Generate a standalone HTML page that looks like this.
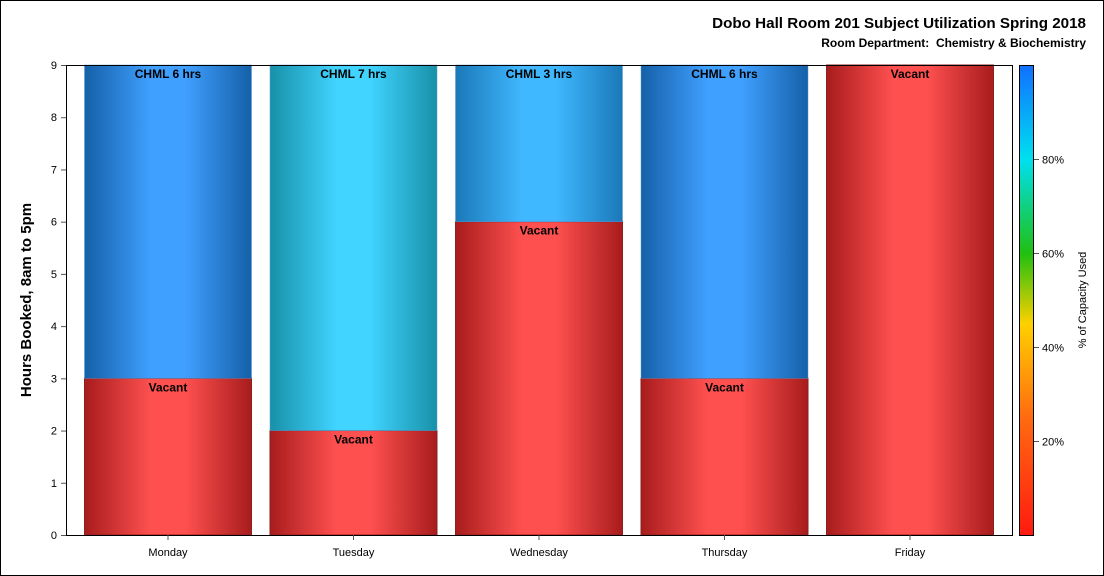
<!DOCTYPE html>
<html><head><meta charset="utf-8"><style>
body{margin:0;background:#fff}
svg{display:block;font-family:"Liberation Sans",Arial,sans-serif}
</style></head><body>
<svg id="c" width="1104" height="576">
<defs>
<linearGradient id="cb" x1="0" y1="1" x2="0" y2="0">
<stop offset="0" stop-color="#ff1a10"/><stop offset="0.25" stop-color="#ff6a10"/>
<stop offset="0.45" stop-color="#ffd000"/><stop offset="0.6" stop-color="#20c010"/>
<stop offset="0.8" stop-color="#00e0f0"/><stop offset="1" stop-color="#1070ff"/>
</linearGradient>
</defs>
<rect x="0.5" y="0.5" width="1103" height="575" fill="#fff" stroke="#000"/>
<text x="1086" y="28" text-anchor="end" font-size="15.2" font-weight="bold">Dobo Hall Room 201 Subject Utilization Spring 2018</text>
<text x="1086" y="47" text-anchor="end" font-size="12" font-weight="bold" xml:space="preserve">Room Department:  Chemistry &amp; Biochemistry</text>
<text transform="translate(31,300) rotate(-90)" text-anchor="middle" font-size="15" font-weight="bold">Hours Booked, 8am to 5pm</text>
<rect x="1019.5" y="65.5" width="14" height="470" fill="url(#cb)" stroke="#000"/>
<text transform="translate(1086,300) rotate(-90)" text-anchor="middle" font-size="11">% of Capacity Used</text>
<g id="bars"></g>
<g id="axes"></g>
</svg>
<script>
const days=["Monday","Tuesday","Wednesday","Thursday","Friday"];
const vacant=[3,2,6,3,9];
const booked=[6,7,3,6,0];
const bookedLabels=["CHML 6 hrs","CHML 7 hrs","CHML 3 hrs","CHML 6 hrs",""];
const yTicks=[0,1,2,3,4,5,6,7,8,9];
const legendTicks=[20,40,60,80];
const bookedColors=[["#1560a8","#40a0ff"],["#1890a8","#40d4ff"],["#1a78b8","#40b8ff"],["#1560a8","#40a0ff"],["#1560a8","#40a0ff"]];
const NS="http://www.w3.org/2000/svg";
const L=66,R=1012,T=65,B=535,yMax=9;
const y=v=>B-(v/yMax)*(B-T);
const pad=102;
const step=(R-L-2*pad)/(days.length-1);
const cxOf=i=>L+pad+step*i;
const barW=167;
const x=i=>cxOf(i)-barW/2;
const svg=document.getElementById('c');
const defs=svg.querySelector('defs');
function grad(id,edge,mid){
  const g=document.createElementNS(NS,'linearGradient');g.id=id;
  [[0,edge],[0.4,mid],[0.6,mid],[1,edge]].forEach(s=>{const st=document.createElementNS(NS,'stop');st.setAttribute('offset',s[0]);st.setAttribute('stop-color',s[1]);g.appendChild(st);});
  defs.appendChild(g);
}
grad('red','#a81c1c','#ff5050');
function el(tag,attrs,parent,text){const e=document.createElementNS(NS,tag);for(const k in attrs)e.setAttribute(k,attrs[k]);if(text!==undefined)e.textContent=text;parent.appendChild(e);return e;}
const gb=document.getElementById('bars');
days.forEach((d,i)=>{
  grad('b'+i,bookedColors[i][0],bookedColors[i][1]);
  const r1=el('rect',{x:x(i),y:y(vacant[i]),width:barW,height:y(0)-y(vacant[i]),fill:'url(#red)',stroke:'#8a2020','stroke-width':1},gb);
  
  
  const t1=el('text',{x:cxOf(i),y:y(vacant[i])+13,'text-anchor':'middle','font-size':12,'font-weight':'bold'},gb,'Vacant');
  
  
  if(booked[i]>0){
    const top=vacant[i]+booked[i];
    const r2=el('rect',{x:x(i),y:y(top),width:barW,height:y(vacant[i])-y(top),fill:'url(#b'+i+')',stroke:'#5a9ad0','stroke-width':0.5},gb);
    
    
    const t2=el('text',{x:cxOf(i),y:y(top)+13,'text-anchor':'middle','font-size':12,'font-weight':'bold'},gb,bookedLabels[i]);
    
    
  }
});
const ga=document.getElementById('axes');
const fr=el('rect',{x:L+0.5,y:T+0.5,width:R-L,height:B-T,fill:'none',stroke:'#000'},ga);


yTicks.forEach(v=>{
  el('line',{x1:L-5,x2:L,y1:y(v)+0.5,y2:y(v)+0.5,stroke:'#555'},ga);
  const t=el('text',{x:L-9,y:y(v)+4,'text-anchor':'end','font-size':11},ga,String(v));
  
  
});
days.forEach((d,i)=>{
  const cx=cxOf(i);
  el('line',{x1:cx,x2:cx,y1:B,y2:B+5,stroke:'#555'},ga);
  const t=el('text',{x:cx,y:B+21,'text-anchor':'middle','font-size':11},ga,d);
  
  
});
legendTicks.forEach(p=>{
  const yy=B-(p/100)*(B-T)+0.5;
  el('line',{x1:1034,x2:1039,y1:yy,y2:yy,stroke:'#555'},ga);
  const t=el('text',{x:1042,y:yy+4,'font-size':11},ga,p+'%');
  
  
});
</script>
</body></html>
